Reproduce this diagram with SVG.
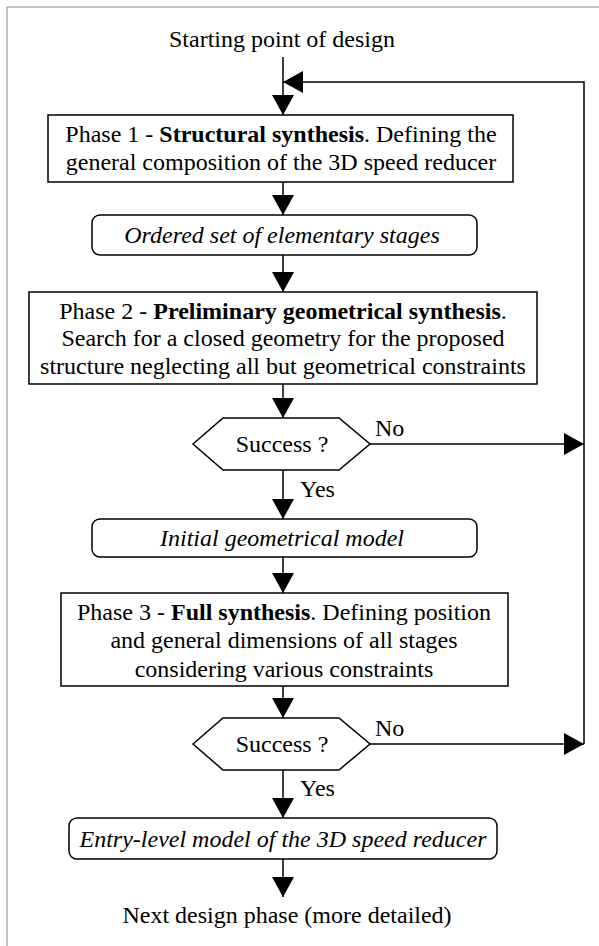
<svg xmlns="http://www.w3.org/2000/svg" width="599" height="946" viewBox="0 0 599 946">
<style>
  .t { font-family: "Liberation Serif", "Times New Roman", serif; font-size: 24px; fill: #000; }
  .c { text-anchor: middle; }
  .i { font-style: italic; }
  .b { font-weight: bold; }
  .box { fill: #fff; stroke: #000; stroke-width: 1.5; }
  .conn { fill: none; stroke: #000; stroke-width: 1.5; }
  .frame { fill: none; stroke: #888; stroke-width: 1; }
</style>
<defs>
  <marker id="ah" markerUnits="userSpaceOnUse" markerWidth="20" markerHeight="22" refX="20" refY="11" orient="auto">
    <path d="M0,0 L20,11 L0,22 Z" fill="#000"/>
  </marker>
</defs>
<rect width="599" height="946" fill="#fff"/>
<g id="frame">
  <path class="frame" d="M7,946 V7 H599"/>
</g>
<g id="connectors">
  <path class="conn" d="M283,57 V115" marker-end="url(#ah)"/>
  <path class="conn" d="M584,744 V82 H283" marker-end="url(#ah)"/>
  <path class="conn" d="M283,182 V215" marker-end="url(#ah)"/>
  <path class="conn" d="M283,255 V292" marker-end="url(#ah)"/>
  <path class="conn" d="M283,384 V418" marker-end="url(#ah)"/>
  <path class="conn" d="M370,444 H584" marker-end="url(#ah)"/>
  <path class="conn" d="M283,470 V519" marker-end="url(#ah)"/>
  <path class="conn" d="M283,557 V593" marker-end="url(#ah)"/>
  <path class="conn" d="M283,686 V718" marker-end="url(#ah)"/>
  <path class="conn" d="M370,744 H584" marker-end="url(#ah)"/>
  <path class="conn" d="M283,770 V818" marker-end="url(#ah)"/>
  <path class="conn" d="M283,859 V897" marker-end="url(#ah)"/>
  <text class="t" x="375" y="436">No</text>
  <text class="t" x="300" y="497">Yes</text>
  <text class="t" x="375" y="736">No</text>
  <text class="t" x="300" y="796">Yes</text>
</g>
<g id="start">
  <text class="t c" x="282" y="47">Starting point of design</text>
</g>
<g id="phase1">
  <rect class="box" x="48" y="115" width="465" height="67"/>
  <text class="t c" x="281" y="142">Phase 1 - <tspan class="b">Structural synthesis</tspan>. Defining the</text>
  <text class="t c" x="281" y="170">general composition of the 3D speed reducer</text>
</g>
<g id="ordered">
  <rect class="box" x="92" y="215" width="385" height="40" rx="8" ry="8"/>
  <text class="t c i" x="282" y="243">Ordered set of elementary stages</text>
</g>
<g id="phase2">
  <rect class="box" x="29" y="292" width="508" height="92"/>
  <text class="t c" x="283" y="319">Phase 2 - <tspan class="b">Preliminary geometrical synthesis</tspan>.</text>
  <text class="t c" x="283" y="346">Search for a closed geometry for the proposed</text>
  <text class="t c" x="283" y="374">structure neglecting all but geometrical constraints</text>
</g>
<g id="decision1">
  <polygon class="box" points="193,444 223,418 339,418 370,444 339,470 223,470"/>
  <text class="t c" x="282" y="452">Success ?</text>
</g>
<g id="initial">
  <rect class="box" x="92" y="519" width="385" height="38" rx="8" ry="8"/>
  <text class="t c i" x="282" y="546">Initial geometrical model</text>
</g>
<g id="phase3">
  <rect class="box" x="61" y="593" width="447" height="93"/>
  <text class="t c" x="284" y="620">Phase 3 - <tspan class="b">Full synthesis</tspan>. Defining position</text>
  <text class="t c" x="284" y="648">and general dimensions of all stages</text>
  <text class="t c" x="284" y="677">considering various constraints</text>
</g>
<g id="decision2">
  <polygon class="box" points="193,744 223,718 339,718 370,744 339,770 223,770"/>
  <text class="t c" x="282" y="752">Success ?</text>
</g>
<g id="entry">
  <rect class="box" x="69" y="818" width="428" height="41" rx="8" ry="8"/>
  <text class="t c i" x="283" y="847">Entry-level model of the 3D speed reducer</text>
</g>
<g id="next">
  <text class="t c" x="287" y="923">Next design phase (more detailed)</text>
</g>
</svg>
